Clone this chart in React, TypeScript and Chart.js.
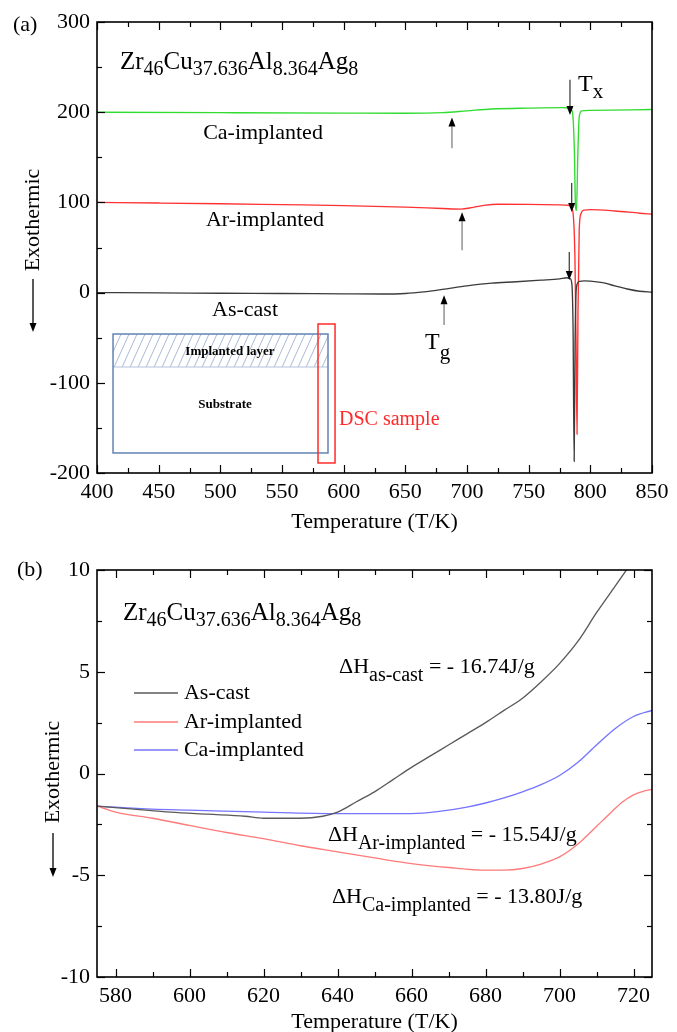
import React, { useEffect, useRef } from 'react';
import { Chart, registerables } from 'chart.js';

Chart.register(...registerables);

const SERIF = "'Liberation Serif', 'Times New Roman', Times, serif";

// ---------------- Panel (a) data ----------------
const tempA_asCast = [400, 450, 500, 550, 600, 630, 650, 665, 680, 700, 720, 740, 760, 775, 781, 783.5, 785, 786, 786.9, 787.6, 788.4, 789.5, 791, 795, 800, 810, 820, 830, 840, 850];
const heatA_asCast = [0, -0.3, -0.7, -1, -1.4, -1.6, -1, 0.8, 3.5, 7.5, 10.5, 12, 13.8, 15.3, 16.5, 15.5, 10, -40, -187, -60, 0, 10, 12.5, 13, 12.8, 11, 7.5, 4, 1.5, 0.5];

const tempA_ar = [400, 450, 500, 550, 600, 650, 680, 695, 705, 715, 725, 750, 775, 782, 785.5, 787.5, 788.5, 789.2, 790, 791, 792.5, 795, 800, 820, 840, 850];
const heatA_ar = [100, 99.3, 98.5, 97.5, 96.5, 94.8, 93.2, 92.5, 94.5, 97, 98, 97.8, 97.3, 96.8, 92, 40, -60, -157, -20, 70, 88, 91.5, 92, 90.5, 88, 87];

const tempA_ca = [400, 500, 600, 650, 680, 700, 720, 750, 778, 783, 785.5, 787, 788, 788.8, 789.8, 791, 793, 800, 850];
const heatA_ca = [200, 199.5, 199, 198.8, 199.5, 201.5, 203.5, 204.5, 205, 204.5, 200, 160, 95, 91, 150, 195, 201.5, 202, 203];

const xTicksA = [400, 450, 500, 550, 600, 650, 700, 750, 800, 850];
const xMinorA = [425, 475, 525, 575, 625, 675, 725, 775, 825];
const yTicksA = [-200, -100, 0, 100, 200, 300];
const yMinorA = [-150, -50, 50, 150, 250];

// ---------------- Panel (b) data ----------------
const tempB_asCast = [575, 585, 595, 605, 615, 620, 625, 630, 636, 640, 645, 650, 655, 660, 665, 670, 675, 680, 685, 690, 695, 700, 705, 710, 715, 720];
const heatB_asCast = [-1.6, -1.75, -1.9, -2.0, -2.1, -2.2, -2.2, -2.2, -2.1, -1.9, -1.4, -0.9, -0.3, 0.3, 0.85, 1.4, 1.95, 2.5, 3.1, 3.7, 4.5, 5.4, 6.5, 7.9, 9.2, 10.5];

const tempB_ar = [575, 580, 590, 600, 610, 620, 630, 640, 650, 660, 670, 680, 685, 690, 695, 700, 703, 706, 710, 714, 717, 720, 723, 725];
const heatB_ar = [-1.6, -1.9, -2.2, -2.55, -2.9, -3.2, -3.55, -3.85, -4.15, -4.43, -4.62, -4.75, -4.75, -4.67, -4.45, -4.1, -3.75, -3.3, -2.6, -1.9, -1.4, -1.05, -0.85, -0.78];

const tempB_ca = [575, 590, 600, 620, 640, 660, 668, 675, 680, 685, 690, 695, 700, 705, 710, 715, 720, 725];
const heatB_ca = [-1.6, -1.75, -1.8, -1.9, -1.97, -1.97, -1.85, -1.65, -1.45, -1.2, -0.9, -0.55, -0.1, 0.55, 1.4, 2.2, 2.8, 3.1];

const xTicksB = [580, 600, 620, 640, 660, 680, 700, 720];
const xMinorB = [590, 610, 630, 650, 670, 690, 710];
const yTicksB = [-10, -5, 0, 5, 10];
const yMinorB = [-7.5, -2.5, 2.5, 7.5];

const seriesNamesB = ['As-cast', 'Ar-implanted', 'Ca-implanted'];

// ---------------- helpers ----------------
const font = (size: number, bold = false) => `${bold ? 'bold ' : ''}${size}px ${SERIF}`;

type Run = [string, number]; // [text, 0 main | 1 sub]
const FORMULA: Run[] = [['Zr', 0], ['46', 1], ['Cu', 0], ['37.636', 1], ['Al', 0], ['8.364', 1], ['Ag', 0], ['8', 1]];

function drawRich(ctx: CanvasRenderingContext2D, runs: Run[], x: number, y: number, main: number, sub: number, shift: number, color = '#000') {
  ctx.save();
  ctx.fillStyle = color;
  ctx.textBaseline = 'middle';
  ctx.textAlign = 'left';
  let cx = x;
  for (const [t, s] of runs) {
    ctx.font = font(s ? sub : main);
    ctx.fillText(t, cx, y + (s ? shift : 0));
    cx += ctx.measureText(t).width;
  }
  ctx.restore();
}

function drawArrow(ctx: CanvasRenderingContext2D, x: number, y1: number, y2: number, shaft: string, lw = 1.2) {
  const dir = y2 > y1 ? 1 : -1;
  const hl = 9, hw = 3.5;
  ctx.save();
  ctx.strokeStyle = shaft;
  ctx.lineWidth = lw;
  ctx.beginPath();
  ctx.moveTo(x, y1);
  ctx.lineTo(x, y2 - dir * hl);
  ctx.stroke();
  ctx.fillStyle = '#000';
  ctx.beginPath();
  ctx.moveTo(x, y2);
  ctx.lineTo(x - hw, y2 - dir * hl);
  ctx.lineTo(x + hw, y2 - dir * hl);
  ctx.closePath();
  ctx.fill();
  ctx.restore();
}

function drawFrame(chart: any, xMajor: number[], xMinor: number[], yMajor: number[], yMinor: number[], right: boolean) {
  const { ctx, chartArea: a, scales } = chart;
  const xs = scales.x, ys = scales.y;
  ctx.save();
  ctx.strokeStyle = '#000';
  ctx.lineWidth = 1.2;
  const seg = (x1: number, y1: number, x2: number, y2: number) => {
    ctx.beginPath(); ctx.moveTo(x1, y1); ctx.lineTo(x2, y2); ctx.stroke();
  };
  const groupsX: [number[], number][] = [[xMajor, 8], [xMinor, 5]];
  for (const [vals, len] of groupsX) {
    for (const v of vals) {
      const p = Math.round(xs.getPixelForValue(v)) + 0.5;
      seg(p, a.bottom, p, a.bottom - len);
      seg(p, a.top, p, a.top + len);
    }
  }
  const groupsY: [number[], number][] = [[yMajor, 8], [yMinor, 5]];
  for (const [vals, len] of groupsY) {
    for (const v of vals) {
      const p = Math.round(ys.getPixelForValue(v)) + 0.5;
      seg(a.left, p, a.left + len, p);
      if (right) seg(a.right, p, a.right - len, p);
    }
  }
  ctx.lineWidth = 1.6;
  ctx.strokeRect(a.left, a.top, a.right - a.left, a.bottom - a.top);
  ctx.restore();
}

function drawYTitle(ctx: CanvasRenderingContext2D, x: number, yCenter: number, arrowTop: number, arrowBottom: number) {
  ctx.save();
  ctx.translate(x, yCenter);
  ctx.rotate(-Math.PI / 2);
  ctx.font = font(22);
  ctx.fillStyle = '#000';
  ctx.textAlign = 'center';
  ctx.textBaseline = 'middle';
  ctx.fillText('Exothermic', 0, 0);
  ctx.restore();
  drawArrow(ctx, x, arrowTop, arrowBottom, '#000', 1.3);
}

function drawText(ctx: CanvasRenderingContext2D, text: string, x: number, y: number, f: string, align: CanvasTextAlign = 'left', color = '#000') {
  ctx.save();
  ctx.font = f;
  ctx.fillStyle = color;
  ctx.textAlign = align;
  ctx.textBaseline = 'middle';
  ctx.fillText(text, x, y);
  ctx.restore();
}

// ---------------- annotation placement (data units) ----------------
const labelsA = [
  { text: 'Ca-implanted', t: 534.6, v: 177 },
  { text: 'Ar-implanted', t: 536.2, v: 80.5 },
  { text: 'As-cast', t: 520, v: -19.3 },
];
const tgArrowsA = [
  { t: 687.8, from: 160, to: 194 },
  { t: 696, from: 47, to: 89 },
  { t: 681.4, from: -36, to: -3 },
];
const txArrowsA = [
  { t: 783.5, from: 236, to: 197 },
  { t: 784.9, from: 121.5, to: 89.4 },
  { t: 782.9, from: 45, to: 14 },
];
const insetA = { t1: 413, t2: 587.3, vTop: -45.9, vBand: -82.5, vBottom: -177.8 };
const sampleA = { t1: 579.2, t2: 593, vTop: -34.8, vBottom: -188.9 };

const legendB = { t1: 585, t2: 596.9, tText: 598.5, rows: [3.96, 2.53, 1.15] };

// ---------------- chart configs ----------------
function baseOptions(xMin: number, xMax: number, yMin: number, yMax: number, xTicks: number[], yTicks: number[], padTop: number, padBottom: number, xH: number) {
  return {
    responsive: false,
    animation: false,
    devicePixelRatio: 1,
    layout: { padding: { top: padTop, right: 25, left: 0, bottom: padBottom } },
    plugins: { legend: { display: false }, tooltip: { enabled: false } },
    elements: { point: { radius: 0 }, line: { borderWidth: 1.35, cubicInterpolationMode: 'monotone' } },
    scales: {
      x: {
        type: 'linear', min: xMin, max: xMax,
        grid: { display: false, drawTicks: false },
        border: { display: false },
        ticks: { font: { family: SERIF, size: 22 }, color: '#000', padding: 6, maxRotation: 0, autoSkip: false },
        afterBuildTicks: (s: any) => { s.ticks = xTicks.map((v) => ({ value: v })); },
        afterFit: (s: any) => { s.height = xH; },
      },
      y: {
        type: 'linear', min: yMin, max: yMax,
        grid: { display: false, drawTicks: false },
        border: { display: false },
        ticks: { font: { family: SERIF, size: 22 }, color: '#000', padding: 7, autoSkip: false },
        afterBuildTicks: (s: any) => { s.ticks = yTicks.map((v) => ({ value: v })); },
        afterFit: (s: any) => { s.width = 97; },
      },
    },
  };
}

const pts = (xs: number[], ys: number[]) => xs.map((x, i) => ({ x, y: ys[i] }));

function configA(): any {
  const decor = {
    id: 'decorA',
    afterDatasetsDraw(chart: any) {
      const { ctx, chartArea: a } = chart;
      const X = (v: number) => chart.scales.x.getPixelForValue(v);
      const Y = (v: number) => chart.scales.y.getPixelForValue(v);

      // inset diagram
      const bx1 = X(insetA.t1), bx2 = X(insetA.t2), byT = Y(insetA.vTop), byB = Y(insetA.vBand), byE = Y(insetA.vBottom);
      ctx.save();
      ctx.beginPath();
      ctx.rect(bx1, byT, bx2 - bx1, byB - byT);
      ctx.clip();
      ctx.strokeStyle = '#a9bad8';
      ctx.lineWidth = 1;
      const h = byB - byT;
      const dx = h * 0.45;
      ctx.beginPath();
      for (let s = bx1 - dx; s < bx2 + dx; s += 8) {
        ctx.moveTo(s, byB);
        ctx.lineTo(s + dx, byT);
      }
      ctx.stroke();
      ctx.restore();
      ctx.save();
      ctx.strokeStyle = '#b3c3df';
      ctx.lineWidth = 1;
      ctx.beginPath(); ctx.moveTo(bx1, byB); ctx.lineTo(bx2, byB); ctx.stroke();
      ctx.strokeStyle = '#6283b5';
      ctx.lineWidth = 1.5;
      ctx.strokeRect(bx1, byT, bx2 - bx1, byE - byT);
      ctx.restore();
      drawText(ctx, 'Implanted layer', X(507.8), Y(-65.8), font(13, true), 'center');
      drawText(ctx, 'Substrate', X(503.8), Y(-124.6), font(13, true), 'center');
      const sx1 = X(sampleA.t1), sx2 = X(sampleA.t2), syT = Y(sampleA.vTop), syB = Y(sampleA.vBottom);
      ctx.save();
      ctx.strokeStyle = '#ff2a2a';
      ctx.lineWidth = 1.5;
      ctx.strokeRect(sx1, syT, sx2 - sx1, syB - syT);
      ctx.restore();
      drawText(ctx, 'DSC sample', X(596.2), Y(-141.2), font(20), 'left', '#ff2a2a');

      // curve labels
      for (const l of labelsA) drawText(ctx, l.text, X(l.t), Y(l.v), font(22), 'center');
      // arrows
      for (const r of tgArrowsA) drawArrow(ctx, X(r.t), Y(r.from), Y(r.to), '#8a8a8a', 1.4);
      for (const r of txArrowsA) drawArrow(ctx, X(r.t), Y(r.from), Y(r.to), '#222', 1.1);
      drawRich(ctx, [['T', 0], ['g', 1]], X(666), Y(-55.9), 24, 21, 10);
      drawRich(ctx, [['T', 0], ['x', 1]], X(790), Y(231), 24, 21, 8);
      drawRich(ctx, FORMULA, X(418.6), Y(255.7), 25, 20, 8);

      drawFrame(chart, xTicksA, xMinorA, yTicksA, yMinorA, false);

      // outer texts
      drawText(ctx, '(a)', 13, 25, font(22));
      drawText(ctx, 'Temperature (T/K)', (a.left + a.right) / 2, 522, font(22), 'center');
      drawYTitle(ctx, 33, 220, 279, 332);
    },
  };
  return {
    type: 'line',
    data: {
      datasets: [
        { label: 'As-cast', data: pts(tempA_asCast, heatA_asCast), borderColor: '#3c3c3c' },
        { label: 'Ar-implanted', data: pts(tempA_ar, heatA_ar), borderColor: '#ff3232' },
        { label: 'Ca-implanted', data: pts(tempA_ca, heatA_ca), borderColor: '#2fdc2f' },
      ],
    },
    options: baseOptions(400, 850, -200, 300, xTicksA, yTicksA, 22, 15, 57),
    plugins: [decor],
  };
}

function configB(): any {
  const colors = ['#5a5a5a', '#ff7a7a', '#7474ff'];
  const decor = {
    id: 'decorB',
    afterDatasetsDraw(chart: any) {
      const { ctx, chartArea: a } = chart;
      const X = (v: number) => chart.scales.x.getPixelForValue(v);
      const Y = (v: number) => chart.scales.y.getPixelForValue(v);

      drawRich(ctx, FORMULA, X(582), Y(7.89), 25, 20, 8);
      drawRich(ctx, [['\u0394H', 0], ['as-cast', 1], [' = - 16.74J/g', 0]], X(640.4), Y(5.23), 22, 20, 9);
      drawRich(ctx, [['\u0394H', 0], ['Ar-implanted', 1], [' = - 15.54J/g', 0]], X(637.4), Y(-3.02), 22, 20, 9);
      drawRich(ctx, [['\u0394H', 0], ['Ca-implanted', 1], [' = - 13.80J/g', 0]], X(638.5), Y(-6.07), 22, 20, 9);

      // legend
      legendB.rows.forEach((rv, i) => {
        const y = Y(rv);
        ctx.save();
        ctx.strokeStyle = colors[i];
        ctx.lineWidth = 1.5;
        ctx.beginPath(); ctx.moveTo(X(legendB.t1), y); ctx.lineTo(X(legendB.t2), y); ctx.stroke();
        ctx.restore();
        drawText(ctx, seriesNamesB[i], X(legendB.tText), y, font(22));
      });

      drawFrame(chart, xTicksB, xMinorB, yTicksB, yMinorB, true);

      drawText(ctx, '(b)', 17, 40, font(22));
      drawText(ctx, 'Temperature (T/K)', (a.left + a.right) / 2, 492, font(22), 'center');
      drawYTitle(ctx, 53, 242, 303, 347);
    },
  };
  return {
    type: 'line',
    data: {
      datasets: [
        { label: seriesNamesB[0], data: pts(tempB_asCast, heatB_asCast), borderColor: colors[0] },
        { label: seriesNamesB[1], data: pts(tempB_ar, heatB_ar), borderColor: colors[1] },
        { label: seriesNamesB[2], data: pts(tempB_ca, heatB_ca), borderColor: colors[2] },
      ],
    },
    options: baseOptions(575, 725, -10, 10, xTicksB, yTicksB, 40, 0, 55),
    plugins: [decor],
  };
}

export default function App() {
  const refA = useRef<HTMLCanvasElement>(null);
  const refB = useRef<HTMLCanvasElement>(null);
  useEffect(() => {
    const ca = new Chart(refA.current as HTMLCanvasElement, configA());
    const cb = new Chart(refB.current as HTMLCanvasElement, configB());
    return () => {
      ca.destroy();
      cb.destroy();
    };
  }, []);
  return (
    <div style={{ position: 'absolute', left: 0, top: 0, width: 677, height: 1032, background: '#fff', overflow: 'hidden' }}>
      <canvas ref={refA} width={677} height={545} style={{ display: 'block', position: 'absolute', left: 0, top: 0 }} />
      <canvas ref={refB} width={677} height={502} style={{ display: 'block', position: 'absolute', left: 0, top: 530 }} />
    </div>
  );
}
